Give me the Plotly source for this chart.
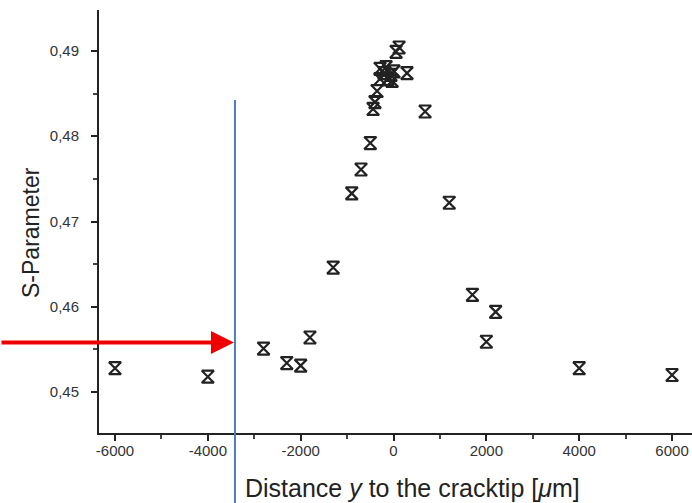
import plotly.graph_objects as go

# Data
x_vals = [-6000, -4000, -2800, -2300, -2000, -1800, -1300, -900, -700, -500,
          -440, -400, -355, -290, -290, -205, -160, -120, -55, 10, -30, 55, 120, 290, 680,
          1200, 1700, 2000, 2200, 4000, 6000]
s_vals = [0.4528, 0.4518, 0.4551, 0.4534, 0.4531, 0.4564, 0.4646, 0.4733, 0.4761, 0.4792,
          0.4832, 0.4840, 0.4853, 0.4867, 0.4879, 0.4874, 0.4881, 0.4867, 0.4872, 0.4876, 0.4865,
          0.4899, 0.4904, 0.4874, 0.4829,
          0.4722, 0.4614, 0.4559, 0.4594, 0.4528, 0.4520]

x_ticks = [-6000, -4000, -2000, 0, 2000, 4000, 6000]
x_tick_text = ["-6000", "-4000", "-2000", "0", "2000", "4000", "6000"]
y_ticks = [0.45, 0.46, 0.47, 0.48, 0.49]
y_tick_text = ["0,45", "0,46", "0,47", "0,48", "0,49"]
marker_line_x = -3416   # blue vertical marker
arrow_y = 0.4558        # red arrow level
x_title = "Distance <i>y</i> to the cracktip [<i>μ</i>m]"
y_title = "S-Parameter"

font = "Liberation Sans, Arial, sans-serif"

fig = go.Figure()
fig.add_trace(go.Scatter(
    x=x_vals, y=s_vals, mode="markers",
    marker=dict(symbol="hourglass-open", size=12, color="#222222",
                line=dict(width=2.2, color="#222222")),
    showlegend=False, hoverinfo="skip"))

fig.add_shape(type="line", xref="x", yref="paper",
              x0=marker_line_x, x1=marker_line_x, y0=0.787, y1=-0.2,
              line=dict(color="#4a7ebb", width=2), layer="above")

fig.add_annotation(x=marker_line_x, y=arrow_y, xref="x", yref="y",
                   ax=-240, ay=0, axref="pixel", ayref="pixel",
                   text="", showarrow=True, arrowhead=2, arrowsize=1.15,
                   arrowwidth=4, arrowcolor="#ee0000", standoff=1)

# axis titles placed as annotations (paper coords)
fig.add_annotation(x=(412 - 99) / 593, y=-(488 - 433) / 423, xref="paper", yref="paper",
                   text=x_title, showarrow=False, xanchor="center", yanchor="middle",
                   font=dict(size=25, family=font, color="#222"))
fig.add_annotation(x=-(99 - 31) / 593, y=(433 - 233) / 423, xref="paper", yref="paper",
                   text=y_title, showarrow=False, textangle=-90, xanchor="center",
                   yanchor="middle", font=dict(size=23, family=font, color="#222"))

fig.update_layout(
    width=692, height=503,
    margin=dict(l=99, r=0, t=10, b=70),
    paper_bgcolor="white", plot_bgcolor="white",
    font=dict(family=font, color="#333333"),
    xaxis=dict(range=[-6345, 6430], tickvals=x_ticks, ticktext=x_tick_text,
               ticks="outside", ticklen=6, ticklabelstandoff=-3,
               tickwidth=1.5, tickcolor="#222", showline=True, linecolor="#222", linewidth=2,
               showgrid=False, zeroline=False,
               minor=dict(dtick=1000, tick0=0, ticks="outside", ticklen=4, tickcolor="#444"),
               tickfont=dict(size=15, family=font, color="#333")),
    yaxis=dict(range=[0.4452, 0.4948], tickvals=y_ticks, ticktext=y_tick_text,
               ticks="outside", ticklen=6, tickwidth=1.5, tickcolor="#222",
               ticklabelstandoff=9,
               showline=True, linecolor="#222", linewidth=2, showgrid=False, zeroline=False,
               minor=dict(dtick=0.005, tick0=0.45, ticks="outside", ticklen=4, tickcolor="#444"),
               tickfont=dict(size=15, family=font, color="#333")),
)

fig.write_html("out.html")
